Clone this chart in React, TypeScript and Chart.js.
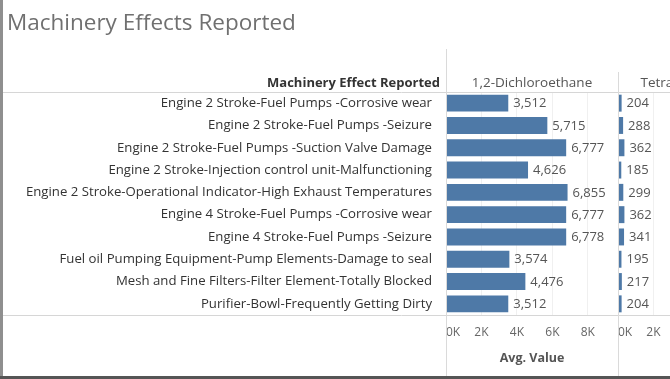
import { useEffect, useRef } from 'react';
import { Chart, registerables } from 'chart.js';

Chart.register(...registerables);

const categories = [
  'Engine 2 Stroke-Fuel Pumps -Corrosive wear',
  'Engine 2 Stroke-Fuel Pumps -Seizure',
  'Engine 2 Stroke-Fuel Pumps -Suction Valve Damage',
  'Engine 2 Stroke-Injection control unit-Malfunctioning',
  'Engine 2 Stroke-Operational Indicator-High Exhaust Temperatures',
  'Engine 4 Stroke-Fuel Pumps -Corrosive wear',
  'Engine 4 Stroke-Fuel Pumps -Seizure',
  'Fuel oil Pumping Equipment-Pump Elements-Damage to seal',
  'Mesh and Fine Filters-Filter Element-Totally Blocked',
  'Purifier-Bowl-Frequently Getting Dirty',
];

const dichloroethane = [3512, 5715, 6777, 4626, 6855, 6777, 6778, 3574, 4476, 3512];
const tetrachloroethylene = [204, 288, 362, 185, 299, 362, 341, 195, 217, 204];

const paneNames = ['1,2-Dichloroethane', 'Tetrachloroethylene'];
const tickValues = [0, 2000, 4000, 6000, 8000];
const axisMax = 9700;

const chartTitle = 'Machinery Effects Reported';
const rowHeader = 'Machinery Effect Reported';
const axisTitle = 'Avg. Value';

const FONT = "'Open Sans', 'DejaVu Sans', sans-serif";

export default function App() {
  const ref = useRef<HTMLCanvasElement>(null);

  useEffect(() => {
    document.body.style.margin = '0';
    const canvas = ref.current;
    if (!canvas) return;

    const framePlugin = {
      id: 'frame',
      afterDatasetsDraw(chart: any) {
        const { ctx } = chart;
        ctx.save();
        ctx.font = `13px ${FONT}`;
        ctx.fillStyle = '#555';
        ctx.textAlign = 'left';
        ctx.textBaseline = 'middle';
        chart.data.datasets.forEach((ds: any, di: number) => {
          const meta = chart.getDatasetMeta(di);
          meta.data.forEach((bar: any, i: number) => {
            const v = ds.data[i];
            ctx.fillText(v.toLocaleString('en-US'), bar.x + 5, bar.y + 0.5);
          });
        });
        ctx.restore();
      },
      afterDraw(chart: any) {
        const { ctx, chartArea, width, height } = chart;
        const x1 = chart.scales.x;
        const x2 = chart.scales.x2;
        const y = chart.scales.y;
        ctx.save();
        // horizontal separators
        ctx.strokeStyle = '#d6d6d6';
        ctx.lineWidth = 1;
        ctx.beginPath();
        ctx.moveTo(3, Math.round(chartArea.top) + 0.5);
        ctx.lineTo(width, Math.round(chartArea.top) + 0.5);
        ctx.moveTo(3, Math.round(chartArea.bottom) + 0.5);
        ctx.lineTo(width, Math.round(chartArea.bottom) + 0.5);
        ctx.stroke();
        // vertical pane separators
        ctx.strokeStyle = '#dadada';
        ctx.beginPath();
        ctx.moveTo(Math.round(x1.left) + 0.5, 49);
        ctx.lineTo(Math.round(x1.left) + 0.5, height);
        ctx.moveTo(Math.round(x2.left) + 0.5, 72);
        ctx.lineTo(Math.round(x2.left) + 0.5, height);
        ctx.stroke();
        // header row texts
        const hy = 83;
        ctx.textBaseline = 'middle';
        ctx.fillStyle = '#333';
        ctx.font = `bold 13px ${FONT}`;
        ctx.textAlign = 'right';
        ctx.fillText(rowHeader, y.right - 6, hy);
        ctx.font = `13.5px ${FONT}`;
        ctx.fillStyle = '#555';
        ctx.textAlign = 'center';
        ctx.fillText(paneNames[0], (x1.left + x1.right) / 2, hy);
        ctx.fillText(paneNames[1], (x2.left + x2.right) / 2, hy);
        // outer frame
        ctx.fillStyle = '#8f8f8f';
        ctx.fillRect(0, 0, 3, height);
        ctx.fillStyle = '#555';
        ctx.fillRect(0, height - 3, width, 3);
        ctx.restore();
      },
    };

    const makeX = (stackName: string) => ({
      type: 'linear' as const,
      position: 'bottom' as const,
      stack: stackName,
      stackWeight: 1,
      min: 0,
      max: axisMax,
      afterBuildTicks: (scale: any) => {
        scale.ticks = [...tickValues, axisMax].map((v) => ({ value: v }));
      },
      afterFit: (scale: any) => {
        scale.height = 64;
      },
      ticks: {
        callback: (v: any) => (tickValues.includes(v) ? `${v / 1000}K` : ''),
        align: 'inner' as const,
        padding: 10,
        color: '#666',
        font: { size: 12, family: FONT },
        autoSkip: false,
        maxRotation: 0,
      },
      grid: {
        drawTicks: false,
        color: (c: any) => {
          const v = c.tick ? c.tick.value : 0;
          if (v === 0 || v === axisMax) return 'rgba(0,0,0,0)';
          return '#f0f0f0';
        },
      },
      border: { display: false },
      title: {
        display: true,
        text: axisTitle,
        color: '#555',
        font: { size: 12.5, weight: 'bold' as const, family: FONT },
        padding: { top: 0, bottom: 13 },
      },
    });

    const chart = new Chart(canvas, {
      type: 'bar',
      data: {
        labels: categories,
        datasets: [
          {
            label: paneNames[0],
            data: dichloroethane,
            xAxisID: 'x',
            yAxisID: 'y',
            backgroundColor: '#4e79a7',
            barPercentage: 0.76,
            categoryPercentage: 1,
            grouped: false,
          },
          {
            label: paneNames[1],
            data: tetrachloroethylene,
            xAxisID: 'x2',
            yAxisID: 'y',
            backgroundColor: '#4e79a7',
            barPercentage: 0.76,
            categoryPercentage: 1,
            grouped: false,
          },
        ],
      },
      options: {
        indexAxis: 'y',
        responsive: false,
        animation: false,
        devicePixelRatio: 1,
        layout: { padding: { left: 7, right: 10, top: 0, bottom: 0 } },
        scales: {
          y: {
            type: 'category',
            position: 'left',
            grid: { display: false },
            border: { display: false },
            afterFit: (scale: any) => {
              scale.width = 439;
            },
            ticks: {
              color: '#333',
              padding: 6,
              autoSkip: false,
              font: { size: 13.2, family: FONT },
            },
          },
          x: makeX('panes'),
          x2: makeX('panes'),
        } as any,
        plugins: {
          legend: { display: false },
          tooltip: { enabled: false },
          title: {
            display: true,
            text: chartTitle,
            align: 'start',
            color: '#707070',
            font: { size: 22.5, weight: 'normal', family: FONT },
            padding: { top: 10, bottom: 55 },
          },
        },
      },
      plugins: [framePlugin],
    });

    return () => chart.destroy();
  }, []);

  return (
    <div style={{ width: 670, height: 379, overflow: 'hidden', position: 'relative', background: '#fff' }}>
      <canvas ref={ref} width={800} height={379} style={{ display: 'block', width: 800, height: 379 }} />
    </div>
  );
}
